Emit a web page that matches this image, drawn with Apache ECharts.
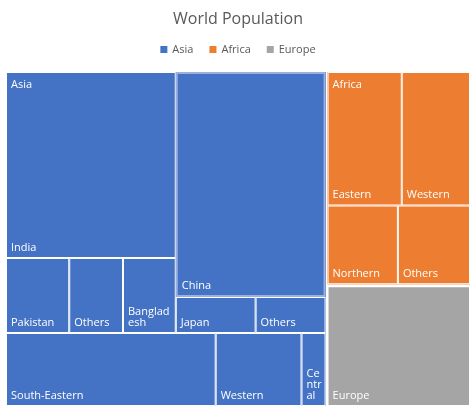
<!DOCTYPE html>
<html><head><meta charset="utf-8">
<script src="https://cdn.jsdelivr.net/npm/echarts@6/dist/echarts.min.js"></script>
<style>html,body{margin:0;padding:0;background:#fff}#c{width:476px;height:412px}</style>
</head><body><div id="c"></div>
<script>
const regions = ['Asia', 'Africa', 'Europe'];
const regionColors = ['#4472C4', '#ED7D31', '#A5A5A5'];
// Asia blocks (grouped as laid out in the picture)
const asiaBlockA = ['India', 'Pakistan', 'Others', 'Bangladesh'];
const asiaBlockAValues = [1330, 200, 170, 167];
const asiaBlockB = ['China', 'Japan', 'Others'];
const asiaBlockBValues = [1420, 121, 106];
const asiaBlockC = ['South-Eastern', 'Western', 'Central'];
const asiaBlockCValues = [645, 264, 74];
const africaBlockA = ['Eastern', 'Western'];
const africaBlockAValues = [422, 388];
const africaBlockB = ['Northern', 'Others'];
const africaBlockBValues = [236, 242];
const europeValue = 732;

const TM_LEFT = 6, TM_TOP = 72;

function leaf(name, value, color) {
  const n = { name, value, itemStyle: { color, borderColor: '#fff', borderWidth: 1, gapWidth: 0 } };
  if (name === 'China') n.itemStyle = { color, borderColor: '#9AB0DE', borderWidth: 2, gapWidth: 0 };
  return n;
}
function group(children, color, name) {
  return { name: name || '', children, itemStyle: { color, borderColor: color, borderWidth: 0, gapWidth: 0 } };
}
function block(names, vals, color) { return group(names.map((n, i) => leaf(n, vals[i], color)), color); }

const cA = regionColors[0], cF = regionColors[1];
const data = [
  group([ group([block(asiaBlockA, asiaBlockAValues, cA), block(asiaBlockB, asiaBlockBValues, cA)], cA),
          block(asiaBlockC, asiaBlockCValues, cA) ], cA, 'Asia'),
  group([ block(africaBlockA, africaBlockAValues, cF), block(africaBlockB, africaBlockBValues, cF) ], cF, 'Africa'),
  leaf('Europe', europeValue, regionColors[2])
];

const chart = echarts.init(document.getElementById('c'));
chart.setOption({
  animation: false,
  title: { text: 'World Population', left: 'center', top: 6, textStyle: { fontFamily: 'Open Sans', fontSize: 16, fontWeight: 'normal', color: '#595959' } },
  legend: { top: 39, left: 'center', icon: 'rect', itemWidth: 7, itemHeight: 7, itemGap: 16, textStyle: { fontFamily: 'Open Sans', fontSize: 11, color: '#595959' }, data: regions },
  color: regionColors,
  series: [
    ...regions.map(r => ({ type: 'graph', name: r, data: [], coordinateSystem: null })),
    {
      type: 'treemap', left: TM_LEFT, right: 6, top: TM_TOP, bottom: 6,
      roam: false, nodeClick: false, sort: false, squareRatio: 1,
      breadcrumb: { show: false },
      data: data,
      label: { show: true, position: 'insideBottomLeft', color: '#fff', fontFamily: 'Open Sans', fontSize: 11, overflow: 'breakAll', padding: [0, 0, 4, 4] },
      upperLabel: { show: false },
      levels: [ { itemStyle: { borderWidth: 0, gapWidth: 2, borderColor: '#fff' } } ]
    }
  ]
});
const tm = chart.getModel().getSeriesByType('treemap')[0];
const tree = tm.getData().tree;
const texts = [];
tree.root.children.forEach(node => {
  if (!node.children || !node.children.length) return;
  const lay = node.getLayout();
  texts.push({ type: 'text', left: TM_LEFT + lay.x + 5, top: TM_TOP + lay.y + 7,
    style: { text: node.name, fill: '#fff', font: '11px "Open Sans"' }, z: 100 });
});
chart.setOption({ graphic: texts });
</script></body></html>
